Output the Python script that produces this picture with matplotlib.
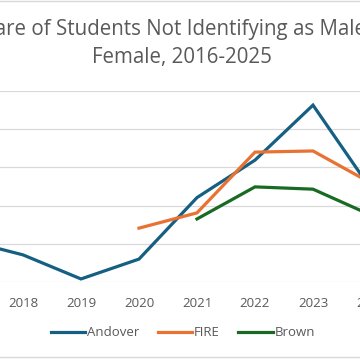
#!/usr/bin/env python3

import matplotlib.pyplot as plt
from matplotlib.lines import Line2D

plt.rcParams['font.family'] = ['Open Sans', 'DejaVu Sans']

years = list(range(2016, 2026))
andover_years = [2017, 2018, 2019, 2020, 2021, 2022, 2023, 2024]
andover = [1.10, 0.71, 0.08, 0.60, 2.21, 3.19, 4.63, 2.43]
fire_years = [2020, 2021, 2022, 2023, 2024]
fire = [1.41, 1.81, 3.40, 3.43, 2.59]
brown_years = [2021, 2022, 2023, 2024]
brown = [1.65, 2.49, 2.43, 1.75]

title_lines = ['Share of Students Not Identifying as Male or', 'Female, 2016-2025']
grey = '#595959'

W = 360.0
fig = plt.figure(figsize=(3.6, 3.6), dpi=100)
# plot area is wider than the visible crop
ax = fig.add_axes([-122 / W, (360 - 282) / W, 580 / W, 191 / W])

ax.plot(andover_years, andover, c='#156082', lw=2.3, label='Andover', solid_joinstyle='miter')
ax.plot(fire_years, fire, c='#E97132', lw=2.3, label='FIRE', solid_joinstyle='miter')
ax.plot(brown_years, brown, c='#196B24', lw=2.3, label='Brown', solid_joinstyle='miter')

ax.set_xlim(2015.5, 2025.5)
ax.set_ylim(0, 5)
ax.set_xticks(years)
ax.set_yticks(range(0, 6))
ax.grid(True, axis='y', color='#D9D9D9', lw=0.9)
ax.set_axisbelow(True)
for s in ax.spines.values():
    s.set_visible(False)
ax.tick_params(length=0, labelsize=9.5, labelcolor=grey, pad=11)

for line, y in zip(title_lines, [30, 57]):
    fig.text(182 / W, 1 - y / W, line, ha='center', va='center', fontsize=14.8,
             color=grey)

fig.legend(loc='center', bbox_to_anchor=(183 / W, 1 - 333 / W), ncol=3, frameon=False,
           fontsize=9.5, labelcolor=grey, handlelength=2.6, handletextpad=0.15,
           columnspacing=1.4)

for y in [1, 357]:
    fig.add_artist(Line2D([0, 1], [1 - y / W, 1 - y / W], transform=fig.transFigure,
                          color='#D9D9D9', lw=1))

fig.savefig('out.png', dpi=100)
